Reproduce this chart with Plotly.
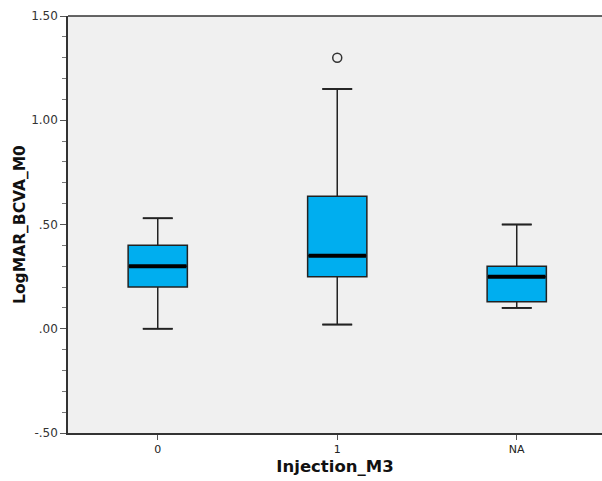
import plotly.graph_objects as go

categories = ["0", "1", "NA"]
lower_whisker = [0.00, 0.02, 0.10]
q1 = [0.20, 0.25, 0.13]
median = [0.30, 0.35, 0.25]
q3 = [0.40, 0.635, 0.30]
upper_whisker = [0.53, 1.15, 0.50]
outlier_cat = [1]
outlier_val = [1.30]

y_tickvals = [-0.5, 0.0, 0.5, 1.0, 1.5]
y_ticktext = ["-.50", ".00", ".50", "1.00", "1.50"]

xs = list(range(len(categories)))
box_w = 0.33
cap_w = 0.167
fill = "#00AEEF"

fig = go.Figure()
fig.add_trace(go.Box(
    x=xs, q1=q1, median=median, q3=q3,
    lowerfence=lower_whisker, upperfence=upper_whisker,
    fillcolor=fill, line=dict(color="#222222", width=1.5),
    width=box_w, boxpoints=False, showlegend=False, hoverinfo="skip",
))

# whisker caps
for x, lo, hi in zip(xs, lower_whisker, upper_whisker):
    for v in (lo, hi):
        fig.add_trace(go.Scatter(x=[x - cap_w / 2, x + cap_w / 2], y=[v, v], mode="lines",
                                 line=dict(color="#222222", width=1.8), showlegend=False, hoverinfo="skip"))
# median thick line
for x, m in zip(xs, median):
    fig.add_trace(go.Scatter(x=[x - box_w / 2 + 0.005, x + box_w / 2 - 0.005], y=[m, m], mode="lines",
                             line=dict(color="#000000", width=4), showlegend=False, hoverinfo="skip"))
# outliers
fig.add_trace(go.Scatter(x=outlier_cat, y=outlier_val, mode="markers",
                         marker=dict(symbol="circle-open", size=9, color="#333333", line=dict(width=1.5)),
                         showlegend=False, hoverinfo="skip"))

fig.update_layout(
    width=602, height=481,
    margin=dict(l=68, r=0, t=16, b=48),
    paper_bgcolor="white", plot_bgcolor="#F0F0F0",
    font=dict(family="DejaVu Sans", color="#333333", size=11),
)
# top frame line
fig.add_shape(type="line", xref="paper", yref="paper", x0=0, x1=1, y0=1, y1=1,
              line=dict(color="#333333", width=1.5))
fig.update_xaxes(
    range=[-0.5, 2.475], tickvals=xs, ticktext=categories,
    showgrid=False, zeroline=False, showline=True, linecolor="#333333", linewidth=1.5,
    mirror=False, ticks="outside", ticklen=5, tickcolor="#555555",
    tickfont=dict(size=11, color="#222222"),
    title=dict(text="<b>Injection_M3</b>", font=dict(size=16.5, color="#111111"), standoff=5),
)
fig.update_yaxes(
    range=[-0.5, 1.5], tickvals=y_tickvals, ticktext=y_ticktext,
    showgrid=False, zeroline=False, showline=True, linecolor="#333333", linewidth=1.5,
    ticks="outside", ticklen=6, tickcolor="#555555",
    minor=dict(dtick=0.1, ticks="outside", ticklen=4, tickcolor="#777777", showgrid=False),
    tickfont=dict(size=12, color="#333333"),
    title=dict(text="<b>LogMAR_BCVA_M0</b>", font=dict(size=15.5, color="#111111"), standoff=2),
)

fig.write_html("out.html")
